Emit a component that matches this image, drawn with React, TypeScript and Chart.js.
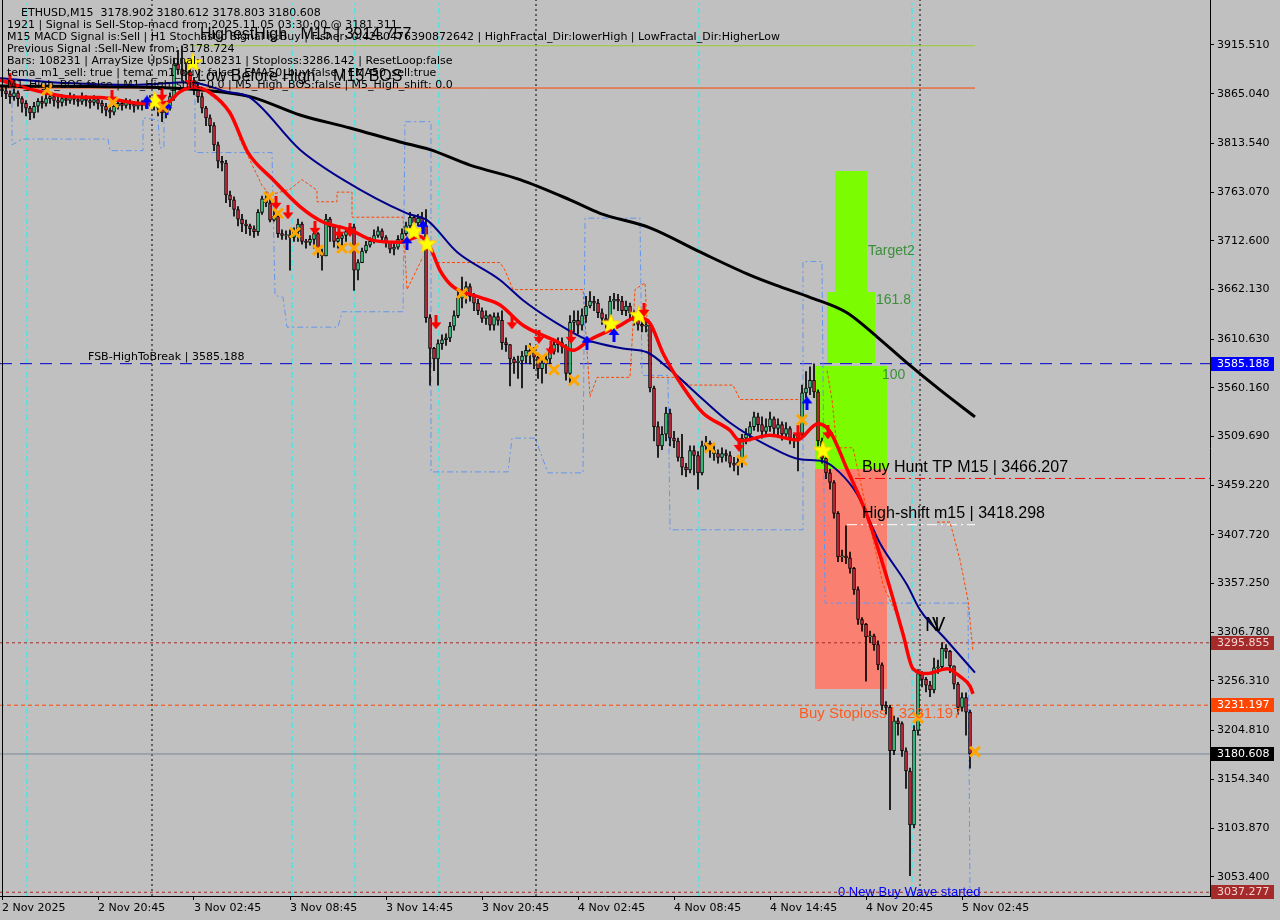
import React, { useEffect, useRef } from "react";
import { Chart, registerables } from "chart.js";

Chart.register(...registerables);

// ---------------- axes ----------------
const X_MIN = -0.5;
const X_MAX = 302;
const Y_MIN = 3033.4;
const Y_MAX = 3962.155;
const X_TICK_BARS = [0, 24, 48, 72, 96, 120, 144, 168, 192, 216, 240];
const X_TICK_LABELS = [
  "2 Nov 2025", "2 Nov 20:45", "3 Nov 02:45", "3 Nov 08:45", "3 Nov 14:45", "3 Nov 20:45",
  "4 Nov 02:45", "4 Nov 08:45", "4 Nov 14:45", "4 Nov 20:45", "5 Nov 02:45",
];
const Y_TICKS = [
  3915.51, 3865.04, 3813.54, 3763.07, 3712.6, 3662.13, 3610.63, 3560.16, 3509.69,
  3459.22, 3407.72, 3357.25, 3306.78, 3256.31, 3204.81, 3154.34, 3103.87, 3053.4,
];

// ---------------- candles (M15, bar index 0 = 2 Nov 14:45) ----------------
const FIRST_OPEN = 3870;
const CLOSE = [
  3868, 3865, 3862, 3866, 3860, 3855, 3850, 3845, 3852, 3857,
  3855, 3860, 3862, 3858, 3856, 3860, 3858, 3861, 3859, 3857,
  3860, 3858, 3856, 3859, 3855, 3852, 3848, 3846, 3852, 3855,
  3853, 3856, 3854, 3852, 3855, 3853, 3856, 3858, 3855, 3850,
  3845, 3852, 3862, 3896, 3890, 3885, 3888, 3878, 3870, 3862,
  3850, 3840, 3832, 3812, 3795, 3793, 3760, 3755, 3745, 3735, 3730, 3728,
  3725, 3722, 3742, 3756, 3752, 3734, 3738, 3720, 3718, 3719,
  3716, 3722, 3730, 3712, 3711, 3714, 3720, 3700, 3697, 3735,
  3727, 3712, 3715, 3718, 3722, 3727, 3682, 3690, 3702, 3708,
  3712, 3718, 3723, 3716, 3711, 3704, 3706, 3714, 3720, 3728,
  3737, 3731, 3736, 3728, 3633, 3601, 3590, 3606, 3610, 3612,
  3624, 3635, 3653, 3661, 3665, 3655, 3648, 3640, 3632, 3635,
  3625, 3634, 3630, 3607, 3605, 3590, 3586, 3588, 3593, 3599,
  3597, 3592, 3580, 3586, 3590, 3598, 3605, 3607, 3603, 3575,
  3628, 3630, 3625, 3635, 3645, 3650, 3648, 3638, 3632, 3628,
  3650, 3652, 3650, 3640, 3645, 3638, 3630, 3626, 3624, 3625,
  3560, 3520, 3500, 3512, 3534, 3508, 3505, 3488, 3478, 3475,
  3495, 3490, 3472, 3500, 3503, 3495, 3492, 3488, 3492, 3490,
  3482, 3480, 3483, 3508, 3512, 3520, 3530, 3522, 3515, 3520,
  3528, 3518, 3522, 3512, 3518, 3508, 3505, 3512, 3555, 3560,
  3568, 3556, 3505, 3487, 3472, 3462, 3430, 3385, 3386, 3384,
  3373, 3351, 3320, 3315, 3302, 3303, 3294, 3273, 3231, 3229,
  3184, 3215, 3212, 3184, 3163, 3107, 3205, 3264, 3258, 3252,
  3247, 3270, 3271, 3290, 3287, 3272, 3253, 3229, 3239, 3224, 3180.608,
];
const HIGH = [
  3874, 3872, 3868, 3870, 3868, 3862, 3858, 3852, 3856, 3860,
  3862, 3864, 3866, 3865, 3862, 3864, 3863, 3866, 3864, 3862,
  3866, 3863, 3862, 3863, 3861, 3858, 3855, 3852, 3856, 3859,
  3858, 3860, 3859, 3857, 3859, 3858, 3860, 3863, 3861, 3858,
  3853, 3856, 3866, 3902, 3910, 3914.757, 3898, 3892, 3882, 3875,
  3866, 3852, 3843, 3835, 3815, 3800, 3796, 3764, 3758, 3748, 3740, 3734,
  3730, 3728, 3745, 3759, 3763, 3756, 3745, 3740, 3724, 3723,
  3724, 3726, 3735, 3732, 3714, 3718, 3722, 3721, 3704, 3740,
  3737, 3729, 3720, 3721, 3726, 3730, 3730, 3693, 3705, 3712,
  3716, 3724, 3727, 3725, 3718, 3712, 3710, 3718, 3725, 3732,
  3742, 3738, 3740, 3742, 3745, 3636, 3602, 3610, 3615, 3616,
  3628, 3640, 3660, 3675, 3670, 3668, 3658, 3652, 3643, 3640,
  3636, 3638, 3638, 3640, 3612, 3605, 3592, 3593, 3598, 3604,
  3606, 3602, 3593, 3590, 3595, 3602, 3610, 3612, 3612, 3605,
  3635, 3640, 3640, 3642, 3655, 3660, 3655, 3652, 3642, 3636,
  3655, 3658, 3657, 3655, 3650, 3648, 3640, 3632, 3632, 3630,
  3628, 3562, 3525, 3520, 3540, 3538, 3515, 3508, 3512, 3482,
  3500, 3500, 3494, 3505, 3510, 3505, 3500, 3496, 3498, 3496,
  3494, 3488, 3490, 3512, 3518, 3525, 3535, 3534, 3530, 3528,
  3535, 3530, 3528, 3525, 3524, 3520, 3512, 3516, 3563, 3577,
  3582, 3585, 3558, 3508, 3490, 3476, 3464, 3432, 3392, 3417,
  3390, 3374, 3354, 3322, 3316, 3308, 3305, 3298, 3275, 3235,
  3231, 3220, 3218, 3214, 3187, 3166, 3210, 3268, 3266, 3260,
  3256, 3280, 3278, 3296, 3294, 3288, 3272, 3255, 3244, 3244, 3226,
];
const LOW = [
  3862, 3860, 3855, 3858, 3852, 3846, 3842, 3838, 3840, 3846,
  3850, 3852, 3855, 3852, 3850, 3852, 3853, 3855, 3854, 3852,
  3854, 3852, 3850, 3853, 3849, 3845, 3842, 3840, 3843, 3849,
  3848, 3850, 3849, 3846, 3849, 3848, 3850, 3852, 3848, 3842,
  3836, 3840, 3848, 3858, 3885, 3878, 3876, 3872, 3864, 3856,
  3845, 3832, 3825, 3806, 3788, 3785, 3752, 3748, 3738, 3728, 3722, 3720,
  3718, 3716, 3718, 3740, 3748, 3732, 3733, 3716, 3714, 3714,
  3682, 3712, 3712, 3709, 3705, 3708, 3705, 3695, 3682, 3697,
  3712, 3706, 3705, 3708, 3712, 3718, 3661, 3672, 3690, 3700,
  3706, 3710, 3716, 3712, 3706, 3700, 3698, 3704, 3710, 3718,
  3726, 3726, 3728, 3724, 3628, 3563, 3578, 3563, 3600, 3604,
  3608, 3620, 3633, 3643, 3648, 3650, 3640, 3636, 3628, 3626,
  3620, 3620, 3625, 3600, 3598, 3562, 3575, 3570, 3560, 3586,
  3585, 3580, 3570, 3565, 3575, 3585, 3595, 3597, 3596, 3568,
  3565, 3618, 3616, 3620, 3628, 3643, 3640, 3633, 3626, 3622,
  3624, 3642, 3640, 3636, 3635, 3632, 3625, 3620, 3618, 3618,
  3556, 3505, 3488, 3496, 3505, 3500, 3498, 3484, 3470, 3468,
  3472, 3470, 3455, 3470, 3495, 3488, 3485, 3482, 3483, 3484,
  3478, 3474, 3470, 3478, 3502, 3505, 3516, 3515, 3508, 3510,
  3515, 3512, 3510, 3506, 3508, 3502, 3498, 3474, 3508, 3550,
  3553, 3550, 3500, 3482, 3466, 3455, 3425, 3380, 3380, 3378,
  3368, 3346, 3315, 3308, 3256, 3296, 3288, 3268, 3226, 3222,
  3123, 3180, 3200, 3178, 3145, 3054.4, 3104, 3200, 3250, 3245,
  3240, 3244, 3264, 3268, 3280, 3265, 3248, 3222, 3225, 3200, 3166,
];

// ---------------- moving averages: [bar, price] ----------------
const MA_SLOW = [
  [-0.5, 3873], [42, 3871], [49.5, 3869], [62, 3862], [74.5, 3843], [87, 3829.5], [99.5, 3815],
  [107, 3807], [117, 3791], [129.5, 3776], [142, 3755], [149.5, 3741], [162, 3726], [174.5, 3701],
  [187, 3677], [194.5, 3665], [202, 3654], [211.25, 3638], [218.75, 3613], [226.25, 3586],
  [234.5, 3558], [243.25, 3530],
];
const MA_MID = [
  [-0.5, 3881], [16.25, 3876], [32.75, 3874], [47, 3877], [56.25, 3867], [62, 3861], [74.5, 3807],
  [85.25, 3776], [101.25, 3741], [106.25, 3734], [113.75, 3701], [124.5, 3672], [130.25, 3651],
  [138.75, 3627], [146.25, 3610], [155.25, 3601], [161.25, 3597], [167, 3579], [175.25, 3548],
  [182, 3524], [192, 3499], [199.5, 3486], [205.25, 3484], [209.5, 3472], [213.75, 3450],
  [219.5, 3399], [226.25, 3356], [229.5, 3330], [236.25, 3298], [243.25, 3265],
];
const MA_FAST = [
  [-0.5, 3879], [7.75, 3869], [16.25, 3862], [24.5, 3861], [35.25, 3855], [41.25, 3856],
  [44.5, 3867], [47.75, 3872], [52, 3866], [57, 3845], [61.5, 3804], [67.75, 3776], [74.5, 3748],
  [80.25, 3732], [87, 3724], [92.75, 3713], [99.5, 3711], [104.5, 3717], [107, 3706], [109.5, 3682],
  [112.75, 3665], [119.5, 3654], [124.5, 3646], [130.25, 3625], [138.75, 3608], [142.75, 3599],
  [147, 3610], [153.75, 3623], [158.75, 3633], [162, 3627], [165.25, 3596], [170.25, 3561],
  [175.25, 3534], [182, 3516], [184.5, 3505], [192, 3511], [198.75, 3506], [204, 3523],
  [207, 3515], [211.25, 3476], [216.25, 3428], [221.25, 3363], [225.25, 3305], [227.75, 3269],
  [231.25, 3264], [236.25, 3269], [239.5, 3261], [242, 3251], [242.75, 3243],
];

// ---------------- channels (corner points) ----------------
const LOWER_CHANNEL = [
  [2.5, 3871], [2.5, 3812], [5, 3818], [26.5, 3818], [27, 3806], [35.25, 3806], [35.25, 3840],
  [39, 3838], [39.5, 3809], [40.5, 3809], [40.5, 3860],
];
const LOWER_CHANNEL_2 = [
  [48.25, 3874], [48.25, 3804], [67.5, 3804], [68.25, 3656], [70.25, 3654], [71.25, 3623],
  [84, 3623], [85, 3639], [100.25, 3639], [100.75, 3836], [107.25, 3836], [107.25, 3473],
  [126.5, 3473], [127.5, 3508], [133.25, 3508], [136.5, 3472], [145.25, 3472], [145.75, 3736],
  [159.5, 3736], [160, 3573], [166.5, 3573], [167, 3413], [200.25, 3413], [200.25, 3691],
  [205, 3691], [205.75, 3337], [241.5, 3337], [242, 3036.5],
];
const UPPER_CHANNEL_1 = [
  [52, 3864], [57, 3848], [59.5, 3817], [62, 3796], [65, 3770], [67, 3760], [72, 3766], [75, 3776],
  [78.75, 3765], [78.75, 3753], [83.75, 3753], [83.75, 3763], [87.5, 3763], [87.5, 3737],
  [100.25, 3737], [101.25, 3662], [105.25, 3696],
];
const UPPER_CHANNEL_2 = [
  [108.75, 3690], [124.5, 3690], [125.75, 3682], [127.75, 3662], [145.25, 3662], [147, 3551],
  [148.75, 3571], [157, 3571], [158.25, 3662], [160.75, 3669], [162, 3571], [168.75, 3571],
  [172, 3563], [182.75, 3563], [184.5, 3548], [200.25, 3548],
];
const UPPER_CHANNEL_3 = [
  [206.25, 3578], [207.5, 3548], [208.75, 3498], [212.75, 3498], [214.5, 3465], [220.25, 3356],
  [223.75, 3324],
];
const UPPER_CHANNEL_4 = [[233.75, 3421], [237, 3421], [239.5, 3382], [241.5, 3340], [242.75, 3287]];

// ---------------- signal markers: [bar, price] ----------------
const EXIT_MARKS = [
  [11.25, 3869], [27.75, 3856], [40.25, 3851], [66.75, 3758], [69, 3741], [73.25, 3721], [79, 3703],
  [85, 3705], [88, 3705], [115, 3658], [132.75, 3599], [135, 3591], [138, 3579], [143, 3568],
  [177, 3498], [185, 3485], [200, 3527], [229, 3218], [243.25, 3183],
];
const SELL_ARROWS = [
  [2, 3879], [27.5, 3862], [40, 3864], [47, 3879], [68.5, 3752], [71.5, 3742], [78.25, 3726],
  [84.25, 3722], [87, 3724], [108.5, 3628], [127.5, 3628], [134.25, 3613], [137.25, 3601],
  [142.25, 3613], [160.5, 3641], [184.25, 3501], [199, 3514], [206.5, 3514],
];
const BUY_ARROWS = [
  [36.25, 3856], [41.25, 3850], [101.25, 3710], [105.25, 3727], [146.25, 3607], [153, 3615],
  [201.25, 3544],
];
const STARS = [
  [38.25, 3858], [47.75, 3898], [103, 3723], [106.25, 3710], [152.25, 3627], [159.25, 3636],
  [205.25, 3496],
];

// ---------------- levels ----------------
const FSB_HIGH = 3585.188;
const HUNT_TP = 3466.207;
const HIGH_SHIFT = 3418.298;
const LEVEL_BROWN_1 = 3295.855;
const STOPLOSS = 3231.197;
const CURRENT = 3180.608;
const LEVEL_BROWN_2 = 3037.277;
const HIGHEST_HIGH = 3914.757;
const LOW_BEFORE_HIGH = 3870.9;
const DAY_STARTS = [37.5, 133.5, 229.5];
const CYCLE_MARKS = [6.25, 72.5, 88.25, 109.25, 174.25, 227.5];

// Fibonacci target zones: [bar from, bar to, price low, price high]
const GREEN_ZONES = [
  [208.25, 216.25, 3659.5, 3784.9],
  [206.25, 218.25, 3585.9, 3659.5],
  [203.25, 221.25, 3476.0, 3582.8],
];
const RED_ZONES = [[203.25, 221.25, 3248.0, 3476.0]];

const INFO_HEADER = "ETHUSD,M15  3178.902 3180.612 3178.803 3180.608";
const INFO_LINES = [
  "1921 | Signal is Sell-Stop-macd from:2025.11.05 03:30:00 @ 3181.311",
  "M15 MACD Signal is:Sell | H1 Stochastic Signal is:Buy | Fisher:-0.4280476390872642 | HighFractal_Dir:lowerHigh | LowFractal_Dir:HigherLow",
  "Previous Signal :Sell-New from: 3178.724",
  "Bars: 108231 | ArraySize UpSignal:108231 | Stoploss:3286.142 | ResetLoop:false",
  "tema_m1_sell: true | tema_m1_buy: false | EMA50_buy:false | EMA50_sell:true",
  "M1_High_BOS:false | M1_High_shift: 0.0 | M5_High_BOS:false | M5_High_shift: 0.0",
];

const SMALL = "'DejaVu Sans', sans-serif";
const ARIAL = "'Liberation Sans', Arial, sans-serif";

function pts(a: number[][]) {
  return a.map(([x, y]) => ({ x, y }));
}

function makeStar(size: number) {
  const c = document.createElement("canvas");
  c.width = size;
  c.height = size;
  const g = c.getContext("2d")!;
  g.translate(size / 2, size / 2 + 1);
  g.beginPath();
  for (let k = 0; k < 10; k++) {
    const r = k % 2 === 0 ? size / 2 : size / 4.8;
    const a = -Math.PI / 2 + (k * Math.PI) / 5;
    g.lineTo(r * Math.cos(a), r * Math.sin(a));
  }
  g.closePath();
  g.fillStyle = "#FFFF00";
  g.fill();
  g.strokeStyle = "#FFD000";
  g.lineWidth = 1;
  g.stroke();
  return c;
}

function makeArrow(color: string, up: boolean) {
  const c = document.createElement("canvas");
  c.width = 12;
  c.height = 14;
  const g = c.getContext("2d")!;
  g.translate(6, 7);
  if (up) g.scale(1, -1);
  g.beginPath();
  g.moveTo(-1.5, -7);
  g.lineTo(1.5, -7);
  g.lineTo(1.5, 0);
  g.lineTo(5.5, 0);
  g.lineTo(0, 7);
  g.lineTo(-5.5, 0);
  g.lineTo(-1.5, 0);
  g.closePath();
  g.fillStyle = color;
  g.fill();
  return c;
}

export default function App() {
  const ref = useRef<HTMLCanvasElement>(null);

  useEffect(() => {
    const canvas = ref.current;
    if (!canvas) return;
    document.body.style.margin = "0";

    const bars = CLOSE.map((_, i) => i);
    const opens = CLOSE.map((c, i) => (i === 0 ? FIRST_OPEN : CLOSE[i - 1]));
    const bull = "#3FD98A";
    const bear = "#D52B3E";

    const hline = (price: number, from: number, to: number, color: string, dash: number[], order: number, width = 1) => ({
      type: "line",
      data: [{ x: from, y: price }, { x: to, y: price }],
      borderColor: color,
      borderWidth: width,
      borderDash: dash,
      pointRadius: 0,
      fill: false,
      order,
    });
    const vline = (bar: number, color: string, dash: number[]) => ({
      type: "line",
      data: [{ x: bar, y: Y_MIN }, { x: bar, y: Y_MAX }],
      borderColor: color,
      borderWidth: 1,
      borderDash: dash,
      pointRadius: 0,
      fill: false,
      order: 12,
    });
    const path = (a: number[][], color: string, width: number, dash: number[], order: number, smooth = false) => ({
      type: "line",
      data: pts(a),
      borderColor: color,
      borderWidth: width,
      borderDash: dash,
      pointRadius: 0,
      fill: false,
      tension: 0,
      cubicInterpolationMode: smooth ? "monotone" : "default",
      order,
    });
    const markers = (a: number[][], style: any, extra: any) => ({
      type: "line",
      data: pts(a),
      showLine: false,
      pointStyle: style,
      pointRadius: 7,
      order: 1,
      ...extra,
    });

    const datasets: any[] = [
      ...DAY_STARTS.map((b) => vline(b, "#000000", [2, 3])),
      ...CYCLE_MARKS.map((b) => vline(b, "#00FFFF", [6, 3, 2, 3])),
      hline(FSB_HIGH, X_MIN, X_MAX, "#0000CD", [12, 8], 11),
      hline(HUNT_TP, 213.25, X_MAX, "#FF0000", [10, 4, 2, 4], 11),
      hline(HIGH_SHIFT, 211.25, 243.25, "#FFFFFF", [10, 4, 2, 4], 11),
      hline(LEVEL_BROWN_1, X_MIN, X_MAX, "#A52A2A", [3, 3], 11),
      hline(STOPLOSS, X_MIN, X_MAX, "#FF4500", [4, 3], 11),
      hline(CURRENT, X_MIN, X_MAX, "#778899", [], 11),
      hline(LEVEL_BROWN_2, X_MIN, X_MAX, "#A52A2A", [3, 3], 11),
      hline(HIGHEST_HIGH, 47, 243.25, "#9ACD32", [], 11),
      hline(LOW_BEFORE_HIGH, X_MIN, 243.25, "#FF4500", [], 11),
      path(LOWER_CHANNEL, "#6495ED", 1, [6, 3, 2, 3], 10),
      path(LOWER_CHANNEL_2, "#6495ED", 1, [6, 3, 2, 3], 10),
      path(UPPER_CHANNEL_1, "#FF4500", 1, [3, 2], 10),
      path(UPPER_CHANNEL_2, "#FF4500", 1, [3, 2], 10),
      path(UPPER_CHANNEL_3, "#FF4500", 1, [3, 2], 10),
      path(UPPER_CHANNEL_4, "#FF4500", 1, [3, 2], 10),
      {
        type: "bar",
        data: bars.map((i) => ({ x: i, y: [LOW[i], HIGH[i]] })),
        backgroundColor: "#000000",
        barThickness: 1,
        grouped: false,
        order: 9,
      },
      {
        type: "bar",
        data: bars.map((i) => ({ x: i, y: [opens[i], CLOSE[i]] })),
        backgroundColor: bars.map((i) => (CLOSE[i] >= opens[i] ? bull : bear)),
        borderColor: "#000000",
        borderWidth: 1,
        borderSkipped: false,
        barThickness: 3,
        grouped: false,
        order: 8,
      },
      path(MA_SLOW, "#000000", 3, [], 6, true),
      path(MA_MID, "#00008B", 2, [], 5, true),
      path(MA_FAST, "#FF0000", 3.5, [], 4, true),
      markers(EXIT_MARKS, "crossRot", { borderColor: "#FFA500", borderWidth: 3, pointRadius: 7 }),
      markers(SELL_ARROWS, makeArrow("#FF0000", false), {}),
      markers(BUY_ARROWS, makeArrow("#0000FF", true), {}),
      markers(STARS, makeStar(20), {}),
    ];

    const zonesPlugin = {
      id: "zones",
      beforeDatasetsDraw(chart: any) {
        const { ctx, scales, chartArea } = chart;
        const { x, y } = scales;
        ctx.save();
        ctx.beginPath();
        ctx.rect(chartArea.left, chartArea.top, chartArea.right - chartArea.left, chartArea.bottom - chartArea.top);
        ctx.clip();
        const draw = (z: number[], color: string) => {
          const x0 = x.getPixelForValue(z[0]);
          const x1 = x.getPixelForValue(z[1]);
          const y0 = y.getPixelForValue(z[3]);
          const y1 = y.getPixelForValue(z[2]);
          ctx.fillStyle = color;
          ctx.fillRect(x0, y0, x1 - x0, y1 - y0);
        };
        GREEN_ZONES.forEach((z) => draw(z, "#7CFC00"));
        RED_ZONES.forEach((z) => draw(z, "#FA8072"));
        ctx.restore();
      },
    };

    const labelsPlugin = {
      id: "labels",
      afterDatasetsDraw(chart: any) {
        const { ctx, scales } = chart;
        const { x, y } = scales;
        const put = (text: string, bar: number, price: number, font: string, color: string, baseline: string, dy = 0) => {
          ctx.font = font;
          ctx.fillStyle = color;
          ctx.textAlign = "left";
          ctx.textBaseline = baseline;
          ctx.fillText(text, x.getPixelForValue(bar), y.getPixelForValue(price) + dy);
        };
        ctx.save();
        put("FSB-HighToBreak | 3585.188", 21.5, FSB_HIGH, `11px ${SMALL}`, "#000000", "bottom", -1);
        put("HighestHigh   M15 | 3914.757", 49.5, HIGHEST_HIGH, `16px ${ARIAL}`, "#000000", "bottom", -3);
        put("Low Before High    M15 BOS", 48.75, LOW_BEFORE_HIGH, `16px ${ARIAL}`, "#000000", "bottom", -3);
        put("Buy Hunt TP M15 | 3466.207", 215, HUNT_TP, `16px ${ARIAL}`, "#000000", "bottom", -3);
        put("High-shift m15 | 3418.298", 215, HIGH_SHIFT, `16px ${ARIAL}`, "#000000", "bottom", -3);
        put("Buy Stoploss | 3231.197", 199.25, STOPLOSS, `15px ${ARIAL}`, "#FF5A1E", "top", 1);
        put("0 New Buy Wave started", 209, LEVEL_BROWN_2, `13px ${ARIAL}`, "#0000FF", "middle", 0);
        put("Target2", 216.5, 3702, `14px ${ARIAL}`, "#3A8F3A", "middle", 0);
        put("161.8", 218.5, 3651, `14px ${ARIAL}`, "#3A8F3A", "middle", 0);
        put("100", 220, 3573, `14px ${ARIAL}`, "#3A8F3A", "middle", 0);
        put("N", 230.75, 3314, `20px ${ARIAL}`, "#000000", "middle", 0);
        put("V", 232.5, 3314, `20px ${ARIAL}`, "#000000", "middle", 0);
        ctx.restore();
      },
    };

    const overlayPlugin = {
      id: "overlay",
      afterDraw(chart: any) {
        const { ctx, scales, chartArea } = chart;
        const y = scales.y;
        ctx.save();
        // left frame
        ctx.strokeStyle = "#000000";
        ctx.lineWidth = 1;
        ctx.beginPath();
        ctx.moveTo(2.5, chartArea.top);
        ctx.lineTo(2.5, chartArea.bottom);
        ctx.stroke();
        // price tags on the axis
        const tags: [number, string, string][] = [
          [FSB_HIGH, "#0000FF", "#FFFFFF"],
          [LEVEL_BROWN_1, "#A52A2A", "#F4D4D4"],
          [STOPLOSS, "#FF4500", "#FFFFFF"],
          [CURRENT, "#000000", "#FFFFFF"],
          [LEVEL_BROWN_2, "#A52A2A", "#F4D4D4"],
        ];
        ctx.font = `11px ${SMALL}`;
        ctx.textBaseline = "middle";
        ctx.textAlign = "left";
        tags.forEach(([v, bg, fg]) => {
          const py = Math.round(y.getPixelForValue(v));
          ctx.fillStyle = bg;
          ctx.fillRect(chartArea.right + 1, py - 7, 63, 14);
          ctx.fillStyle = fg;
          ctx.fillText(v.toFixed(3), chartArea.right + 7, py + 0.5);
        });
        // info block
        ctx.fillStyle = "#000000";
        ctx.fillText(INFO_HEADER, 21, 13);
        INFO_LINES.forEach((t, k) => ctx.fillText(t, 7, 25 + 12 * k));
        ctx.restore();
      },
    };

    const chart = new Chart(canvas, {
      type: "bar",
      data: { datasets },
      options: {
        animation: false,
        responsive: false,
        maintainAspectRatio: false,
        events: [],
        layout: { padding: 0, autoPadding: false },
        plugins: { legend: { display: false }, tooltip: { enabled: false } },
        scales: {
          x: {
            type: "linear",
            position: "bottom",
            min: X_MIN,
            max: X_MAX,
            offset: false,
            grid: { display: true, drawOnChartArea: false, drawTicks: true, tickLength: 4, color: "#000000", offset: false },
            border: { display: true, color: "#000000", width: 1 },
            ticks: {
              align: "start",
              maxRotation: 0,
              autoSkip: false,
              padding: 2,
              color: "#000000",
              font: { family: SMALL, size: 11 },
              callback: (v: any) => {
                const k = X_TICK_BARS.indexOf(Number(v));
                return k >= 0 ? X_TICK_LABELS[k] : "";
              },
            },
            afterBuildTicks: (s: any) => {
              s.ticks = X_TICK_BARS.map((v) => ({ value: v }));
            },
            afterFit: (s: any) => {
              s.height = 24;
              s.paddingLeft = 0;
              s.paddingRight = 0;
            },
          },
          y: {
            type: "linear",
            position: "right",
            min: Y_MIN,
            max: Y_MAX,
            beginAtZero: false,
            grid: { display: true, drawOnChartArea: false, drawTicks: true, tickLength: 4, color: "#000000" },
            border: { display: true, color: "#000000", width: 1 },
            ticks: {
              padding: 3,
              color: "#000000",
              font: { family: SMALL, size: 11 },
              callback: (v: any) => Number(v).toFixed(3),
            },
            afterBuildTicks: (s: any) => {
              s.ticks = Y_TICKS.map((v) => ({ value: v }));
            },
            afterFit: (s: any) => {
              s.width = 70;
              s.paddingTop = 0;
              s.paddingBottom = 0;
            },
          },
        },
      } as any,
      plugins: [zonesPlugin, labelsPlugin, overlayPlugin],
    } as any);

    return () => chart.destroy();
  }, []);

  return (
    <div style={{ position: "fixed", left: 0, top: 0, width: 1280, height: 920, background: "#C0C0C0" }}>
      <canvas ref={ref} width={1280} height={920} style={{ display: "block", width: 1280, height: 920 }} />
    </div>
  );
}
